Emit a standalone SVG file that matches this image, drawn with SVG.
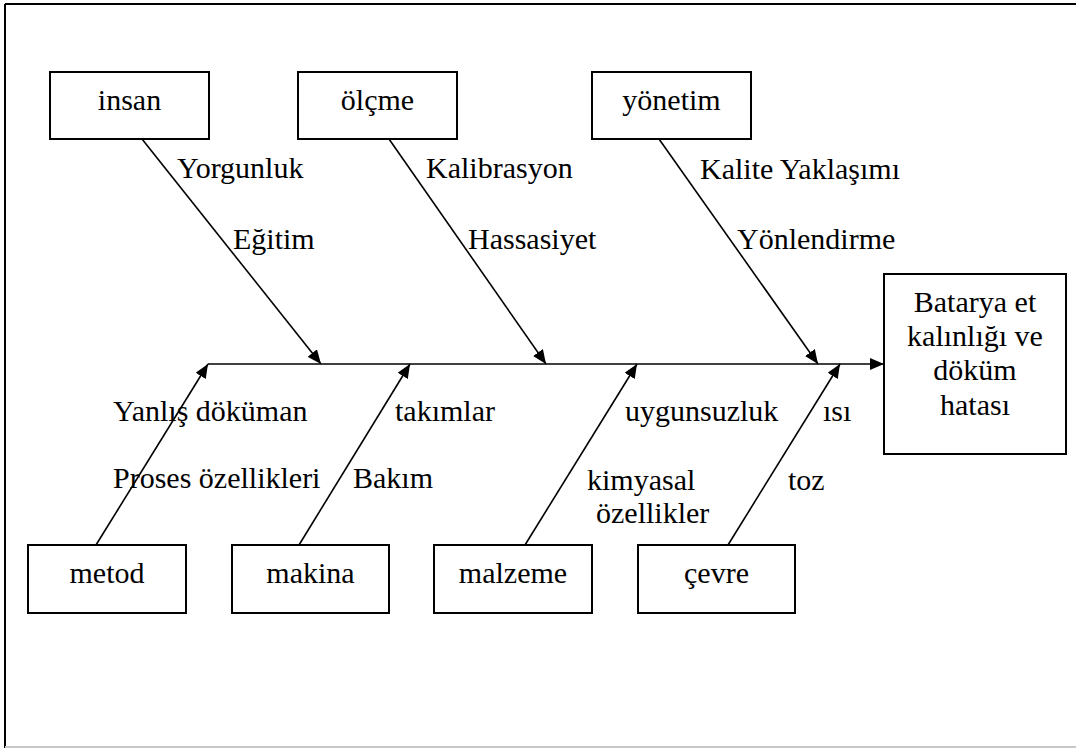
<svg xmlns="http://www.w3.org/2000/svg" width="1076" height="748" viewBox="0 0 1076 748">
  <style>
    .box { fill: #fff; stroke: #000; stroke-width: 2; }
    .lbl { font-family: "Liberation Serif", "Times New Roman", serif; font-size: 30px; fill: #000; }
    .mid { text-anchor: middle; }
    .bone { stroke: #000; stroke-width: 1.6; fill: none; marker-end: url(#ah); }
  </style>
  <defs>
    <marker id="ah" markerWidth="14" markerHeight="12" refX="14" refY="6" orient="auto" markerUnits="userSpaceOnUse">
      <path d="M0,0 L14,6 L0,12 z" fill="#000"/>
    </marker>
  </defs>

  <rect width="1076" height="748" fill="#fff"/>
  <!-- page frame -->
  <g id="frame">
    <line x1="5" y1="4" x2="5" y2="748" stroke="#000" stroke-width="2"/>
    <line x1="5" y1="4" x2="1076" y2="4" stroke="#000" stroke-width="2"/>
    <line x1="5" y1="747" x2="1076" y2="747" stroke="#c8c8c8" stroke-width="2"/>
  </g>

  <!-- fishbone spine and category bones -->
  <g id="connectors">
    <path class="bone" d="M208,364 L884,364"/>
    <path class="bone" d="M142,139 L321,364"/>
    <path class="bone" d="M389,139 L546,364"/>
    <path class="bone" d="M659,139 L818,364"/>
    <path class="bone" d="M96,545 L208,364"/>
    <path class="bone" d="M299,545 L410,364"/>
    <path class="bone" d="M525,545 L637,364"/>
    <path class="bone" d="M728,545 L840,364"/>
  </g>

  <!-- cause labels along the bones -->
  <g id="causes" class="lbl">
    <text x="177" y="178">Yorgunluk</text>
    <text x="233" y="249">Eğitim</text>
    <text x="426" y="178">Kalibrasyon</text>
    <text x="468" y="249">Hassasiyet</text>
    <text x="700" y="179">Kalite Yaklaşımı</text>
    <text x="737" y="249">Yönlendirme</text>
    <text x="113" y="421">Yanlış döküman</text>
    <text x="113" y="488">Proses özellikleri</text>
    <text x="395" y="421">takımlar</text>
    <text x="353" y="488">Bakım</text>
    <text x="625" y="421">uygunsuzluk</text>
    <text x="587" y="490">kimyasal</text>
    <text x="596" y="523">özellikler</text>
    <text x="823" y="421">ısı</text>
    <text x="788" y="490">toz</text>
  </g>

  <g id="insan">
    <rect class="box" x="50" y="72" width="159" height="67"/>
    <text class="lbl mid" x="129.5" y="110">insan</text>
  </g>
  <g id="olcme">
    <rect class="box" x="298" y="72" width="159" height="67"/>
    <text class="lbl mid" x="377.5" y="110">ölçme</text>
  </g>
  <g id="yonetim">
    <rect class="box" x="592" y="72" width="159" height="67"/>
    <text class="lbl mid" x="671.5" y="110">yönetim</text>
  </g>
  <g id="metod">
    <rect class="box" x="28" y="545" width="158" height="68"/>
    <text class="lbl mid" x="107" y="583">metod</text>
  </g>
  <g id="makina">
    <rect class="box" x="232" y="545" width="157" height="68"/>
    <text class="lbl mid" x="310.5" y="583">makina</text>
  </g>
  <g id="malzeme">
    <rect class="box" x="434" y="545" width="158" height="68"/>
    <text class="lbl mid" x="513" y="583">malzeme</text>
  </g>
  <g id="cevre">
    <rect class="box" x="638" y="545" width="157" height="68"/>
    <text class="lbl mid" x="716.5" y="583">çevre</text>
  </g>
  <g id="effect">
    <rect class="box" x="884" y="274" width="182" height="180"/>
    <text class="lbl mid" x="975" y="312">Batarya et</text>
    <text class="lbl mid" x="975" y="346">kalınlığı ve</text>
    <text class="lbl mid" x="975" y="380">döküm</text>
    <text class="lbl mid" x="975" y="415">hatası</text>
  </g>
</svg>
